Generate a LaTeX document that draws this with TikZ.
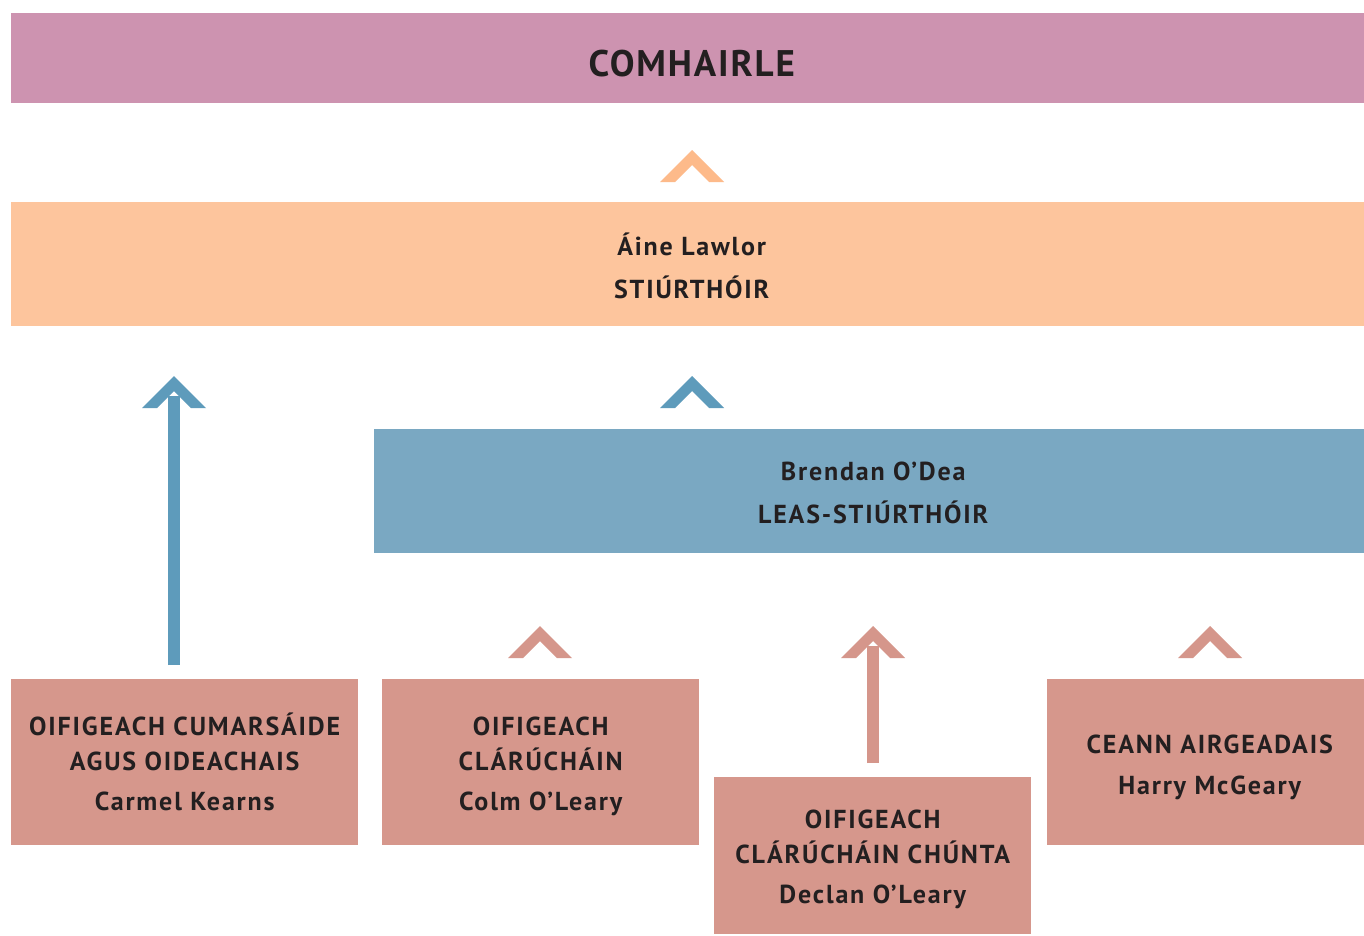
\documentclass[tikz,border=0pt]{standalone}
\usepackage{fontspec}
\usetikzlibrary{calc}
\setmainfont{PT Sans}
\newfontfamily\boxfont[LetterSpace=7]{PT Sans}
\newfontfamily\titlefont[LetterSpace=5]{PT Sans}
\definecolor{cpurple}{HTML}{CD93B0}
\definecolor{corange}{HTML}{FDC59D}
\definecolor{corangeA}{HTML}{FDBA8A}
\definecolor{cblue}{HTML}{7AA8C2}
\definecolor{cblueA}{HTML}{5E9BBB}
\definecolor{cpink}{HTML}{D6978C}
\definecolor{cpinkA}{HTML}{D5968B}
\definecolor{ctext}{HTML}{231F20}
\newcommand\chevronat[2]{\fill[#2] (#1) -- ++(32,32) -- ++(-15,0) -- ++(-17,-17) -- ++(-17,17) -- ++(-15,0) -- cycle;}
\begin{document}
\begin{tikzpicture}[x=1pt,y=-1pt,
  box/.style={rectangle, anchor=north west, inner sep=0pt},
  lbl/.style={align=center, inner sep=0pt, text=ctext,
    font=\boxfont\bfseries\fontsize{26}{35}\selectfont},
  shaft/.style={line width=12pt}]
\useasboundingbox (0,0) rectangle (1364,935);
\fill[white] (0,0) rectangle (1364,935);
% boxes
\node[box, fill=cpurple, minimum width=1353pt, minimum height=90pt] (council) at (11,13) {};
\node[box, fill=corange, minimum width=1353pt, minimum height=124pt] (dir) at (11,202) {};
\node[box, fill=cblue, minimum width=990pt, minimum height=124pt] (dep) at (374,429) {};
\node[box, fill=cpink, minimum width=347pt, minimum height=166pt] (comm) at (11,679) {};
\node[box, fill=cpink, minimum width=317pt, minimum height=166pt] (reg) at (382,679) {};
\node[box, fill=cpink, minimum width=317pt, minimum height=157pt] (areg) at (714,777) {};
\node[box, fill=cpink, minimum width=317pt, minimum height=166pt] (fin) at (1047,679) {};
% labels
\node[lbl, font=\titlefont\bfseries\fontsize{37}{40}\selectfont] (councilT) at ($(council.center)+(4,5)$) {COMHAIRLE};
\node[lbl] (dirT) at ($(dir.center)+(4,2)$) {Áine Lawlor\\[8pt]STIÚRTHÓIR};
\node[lbl] (depT) at ($(dep.center)+(4,2)$) {Brendan O’Dea\\[8pt]LEAS-STIÚRTHÓIR};
\node[lbl] (commT) at ($(comm.center)+(0,0)$) {OIFIGEACH CUMARSÁIDE\\AGUS OIDEACHAIS\\[5pt]Carmel Kearns};
\node[lbl] (regT) at ($(reg.center)+(0,4)$) {OIFIGEACH\\CLÁRÚCHÁIN\\[5pt]Colm O’Leary};
\node[lbl] (aregT) at ($(areg.center)+(0,4)$) {OIFIGEACH\\CLÁRÚCHÁIN CHÚNTA\\[5pt]Declan O’Leary};
\node[lbl] (finT) at ($(fin.center)+(4,5)$) {CEANN AIRGEADAIS\\[6pt]Harry McGeary};
% connector coordinates
\coordinate (tdir) at (692,150);
\coordinate (tdep) at (692,376);
\coordinate (tcomm) at (174,376);
\coordinate (scomm) at (174,665);
\coordinate (treg) at (540,626);
\coordinate (tareg) at (873,626);
\coordinate (sareg) at (873,763);
\coordinate (tfin) at (1210,626);
% shafts
\draw[shaft, cblueA] (scomm) -- ($(tcomm)+(0,20)$);
\draw[shaft, cpinkA] (sareg) -- ($(tareg)+(0,20)$);
% chevrons
\chevronat{tdir}{corangeA}
\chevronat{tdep}{cblueA}
\chevronat{tcomm}{cblueA}
\chevronat{treg}{cpinkA}
\chevronat{tareg}{cpinkA}
\chevronat{tfin}{cpinkA}
\end{tikzpicture}
\end{document}
